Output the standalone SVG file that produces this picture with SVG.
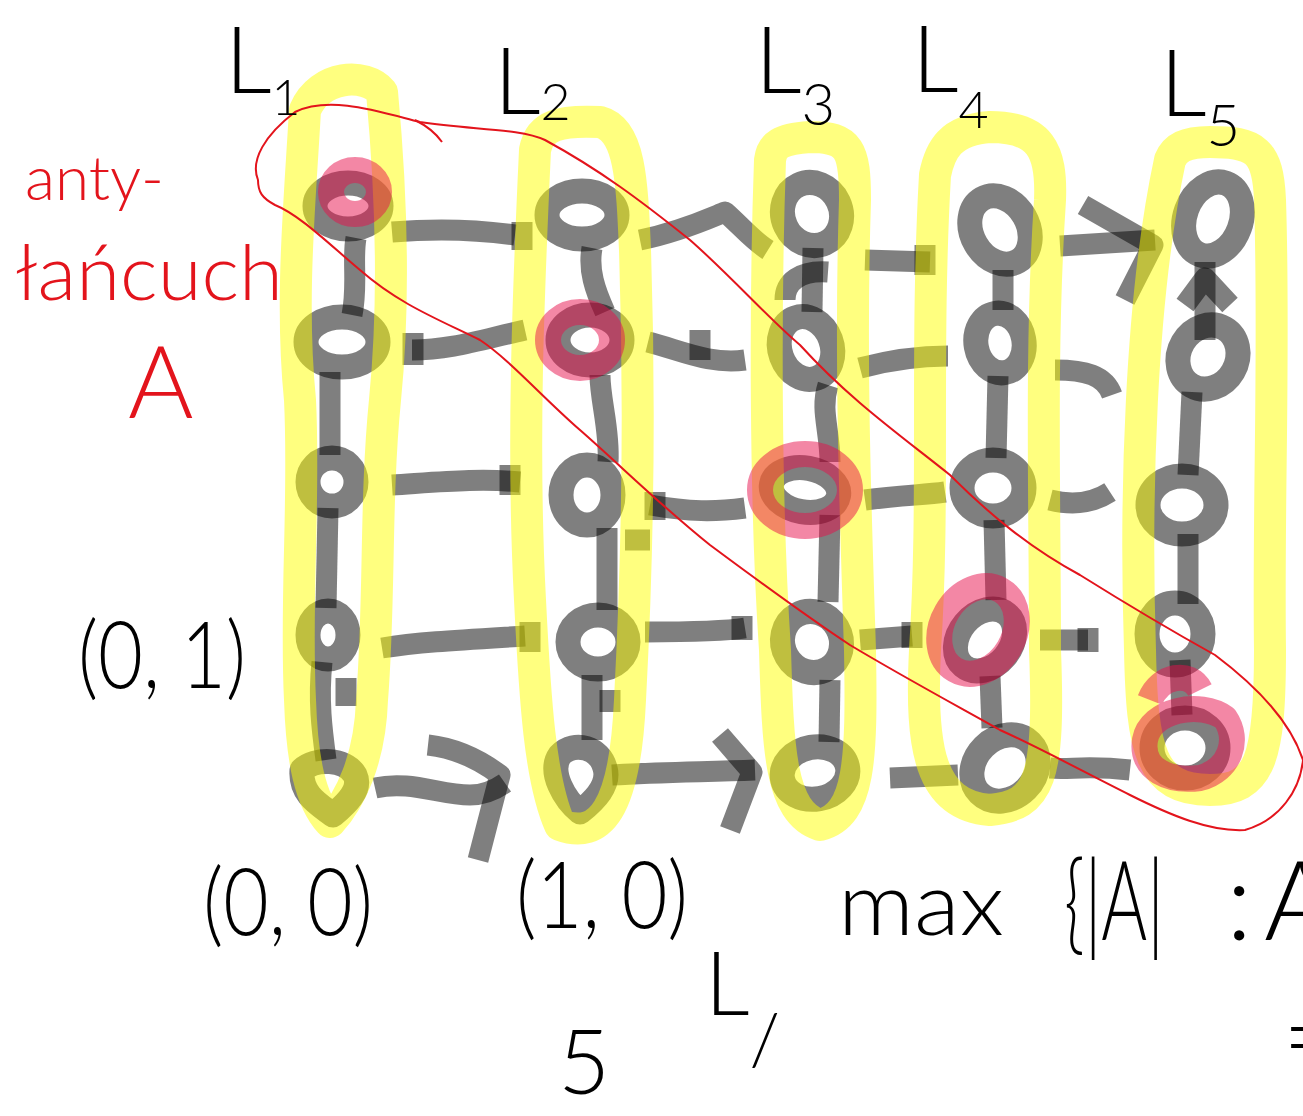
<svg xmlns="http://www.w3.org/2000/svg" width="1303" height="1116" viewBox="0 0 1303 1116">
<style>
.n{fill:none;stroke:#000;stroke-opacity:.5;stroke-width:25;stroke-linejoin:round}
.c{fill:none;stroke:#000;stroke-opacity:.5;stroke-width:21;stroke-linecap:butt;stroke-linejoin:round}
.y{fill:none;stroke:#ffff00;stroke-opacity:.5;stroke-width:32;stroke-linejoin:round}
.p{fill:none;stroke:rgb(232,16,76);stroke-opacity:.5;stroke-width:26;stroke-linejoin:round}
.r{fill:none;stroke:#e3141c;stroke-width:2;stroke-linejoin:round}
.t{font-family:"Lato","Liberation Sans",sans-serif;font-weight:300;fill:#000}
.tr{font-family:"Lato","Liberation Sans",sans-serif;font-weight:300;fill:#e3141c}
</style>
<rect width="1303" height="1116" fill="#fff"/>

<g id="connectors">
  <!-- row 1 -->
  <path class="c" d="M392,232 C440,228 480,230 515,235"/>
  <path class="c" d="M522,222 L522,250"/>
  <path class="c" d="M640,240 C680,232 710,218 725,212 C740,225 752,240 768,250"/>
  <path class="c" d="M865,260 L930,262"/>
  <path class="c" d="M925,245 L925,275"/>
  <path class="c" d="M1060,246 L1155,240"/>
  <path class="c" d="M1083,205 L1153,245 L1125,300"/>
  <!-- row 2 -->
  <path class="c" d="M412,350 C450,350 480,340 525,330"/>
  <path class="c" d="M413,333 L413,365"/>
  <path class="c" d="M648,342 C680,350 710,365 745,360"/>
  <path class="c" d="M700,330 L700,360"/>
  <path class="c" d="M860,368 C890,360 920,356 948,356"/>
  <path class="c" d="M1055,370 C1085,370 1105,375 1112,395"/>
  <!-- row 3 -->
  <path class="c" d="M392,485 C440,482 480,478 520,482"/>
  <path class="c" d="M510,465 L510,495"/>
  <path class="c" d="M650,505 C690,512 715,512 745,508"/>
  <path class="c" d="M655,492 L655,520"/>
  <path class="c" d="M865,500 C900,495 925,495 945,492"/>
  <path class="c" d="M1050,500 C1070,505 1090,505 1110,492"/>
  <!-- row 4 -->
  <path class="c" d="M382,648 C420,642 460,640 525,636"/>
  <path class="c" d="M530,622 L530,652"/>
  <path class="c" d="M645,632 C680,632 720,632 745,628"/>
  <path class="c" d="M742,616 L742,640"/>
  <path class="c" d="M860,640 L912,636"/>
  <path class="c" d="M912,622 L912,648"/>
  <path class="c" d="M1040,640 L1088,640"/>
  <path class="c" d="M1088,628 L1088,652"/>
  <!-- row 5 -->
  <path class="c" d="M375,788 C410,780 440,795 470,795 C485,795 495,790 505,783"/>
  <path class="c" d="M428,745 C455,748 480,760 500,775 L478,860"/>
  <path class="c" d="M612,775 C660,772 700,772 755,770"/>
  <path class="c" d="M720,735 L752,772 L730,830"/>
  <path class="c" d="M890,778 L958,775"/>
  <path class="c" d="M1050,768 C1070,770 1085,765 1130,770"/>
  <!-- column 1 verticals -->
  <path class="c" d="M356,238 C352,260 358,285 352,315"/>
  <path class="c" d="M330,372 L330,455"/>
  <path class="c" d="M328,508 L326,608"/>
  <path class="c" d="M322,662 C318,700 322,730 326,760"/>
  <path class="c" d="M346,678 L346,706"/>
  <!-- column 2 verticals -->
  <path class="c" d="M592,248 C588,270 595,290 605,312"/>
  <path class="c" d="M600,375 C600,400 610,430 608,462"/>
  <path class="c" d="M607,528 L607,610"/>
  <path class="c" d="M625,540 L650,540"/>
  <path class="c" d="M592,675 L592,740"/>
  <path class="c" d="M610,690 L610,712"/>
  <!-- column 3 verticals -->
  <path class="c" d="M813,248 L812,312"/>
  <path class="c" d="M785,300 C785,282 800,270 828,272"/>
  <path class="c" d="M828,385 C820,410 830,430 830,462"/>
  <path class="c" d="M830,515 L828,602"/>
  <path class="c" d="M830,680 L829,742"/>
  <!-- column 4 verticals -->
  <path class="c" d="M1003,270 L1003,310"/>
  <path class="c" d="M998,376 L996,458"/>
  <path class="c" d="M994,520 L996,600"/>
  <path class="c" d="M990,676 L992,728"/>
  <!-- column 5 verticals -->
  <path class="c" d="M1205,262 L1205,340"/>
  <path class="c" d="M1185,305 L1205,278 L1230,305"/>
  <path class="c" d="M1192,392 L1188,475"/>
  <path class="c" d="M1188,534 L1188,604"/>
  <path class="c" d="M1180,660 L1182,715"/>
</g>

<g id="nodes">
  <g id="n11"><ellipse class="n" cx="348" cy="206" rx="33" ry="23"/></g>
  <g id="n12"><ellipse class="n" cx="342" cy="342" rx="36" ry="25"/></g>
  <g id="n13"><ellipse class="n" cx="332" cy="482" rx="24" ry="24"/></g>
  <g id="n14"><ellipse class="n" cx="328" cy="635" rx="20" ry="24"/></g>
  <g id="n15"><path class="n" d="M302,770 C315,758 345,758 355,775 C362,790 345,805 333,815 C320,805 300,795 302,770 Z"/></g>
  <g id="n21"><ellipse class="n" cx="582" cy="215" rx="35" ry="24"/></g>
  <g id="n22"><ellipse class="n" cx="590" cy="340" rx="32" ry="25"/></g>
  <g id="n23"><ellipse class="n" cx="587" cy="495" rx="26" ry="30"/></g>
  <g id="n24"><ellipse class="n" cx="598" cy="642" rx="30" ry="27"/></g>
  <g id="n25"><path class="n" d="M560,755 C575,740 600,748 605,768 C610,785 595,800 580,812 C565,800 548,772 560,755 Z"/></g>
  <g id="n31"><ellipse class="n" cx="812" cy="214" rx="29" ry="32" transform="rotate(-25 812 214)"/></g>
  <g id="n32"><ellipse class="n" cx="806" cy="348" rx="26" ry="32" transform="rotate(-20 806 348)"/></g>
  <g id="n33"><ellipse class="n" cx="805" cy="490" rx="34" ry="22" transform="rotate(10 805 490)"/></g>
  <g id="n34"><ellipse class="n" cx="812" cy="642" rx="29" ry="31" transform="rotate(-30 812 642)"/></g>
  <g id="n35"><ellipse class="n" cx="815" cy="773" rx="33" ry="26" transform="rotate(-10 815 773)"/></g>
  <g id="n41"><ellipse class="n" cx="1000" cy="230" rx="28" ry="36" transform="rotate(-30 1000 230)"/></g>
  <g id="n42"><ellipse class="n" cx="1000" cy="343" rx="24" ry="30" transform="rotate(-10 1000 343)"/></g>
  <g id="n43"><ellipse class="n" cx="993" cy="488" rx="31" ry="28"/></g>
  <g id="n44"><ellipse class="n" cx="985" cy="640" rx="26" ry="34" transform="rotate(40 985 640)"/></g>
  <g id="n45"><ellipse class="n" cx="1005" cy="768" rx="30" ry="36" transform="rotate(45 1005 768)"/></g>
  <g id="n51"><ellipse class="n" cx="1213" cy="219" rx="28" ry="38" transform="rotate(20 1213 219)"/></g>
  <g id="n52"><ellipse class="n" cx="1208" cy="357" rx="29" ry="33" transform="rotate(30 1208 357)"/></g>
  <g id="n53"><ellipse class="n" cx="1182" cy="505" rx="34" ry="29"/></g>
  <g id="n54"><ellipse class="n" cx="1175" cy="634" rx="28" ry="31"/></g>
  <g id="n55"><ellipse class="n" cx="1185" cy="748" rx="33" ry="30"/></g>
</g>

<g id="chains">
  <path class="y" d="M305,110 C300,200 290,300 300,400 C305,500 295,600 300,700 C302,760 310,800 330,822 C350,800 370,760 372,700 C380,600 375,500 385,400 C395,300 392,200 382,92 C365,72 320,75 305,110 Z"/>
  <path class="y" d="M535,150 C528,300 522,450 530,600 C535,700 540,780 560,825 C600,840 625,810 630,700 C638,550 640,400 635,250 C632,180 630,130 600,122 C560,120 540,125 535,150 Z"/>
  <path class="y" d="M770,160 C765,300 765,500 775,650 C778,750 780,812 820,825 C860,815 862,760 860,650 C855,500 850,350 855,200 C855,150 850,137 810,137 C780,139 772,145 770,160 Z"/>
  <path class="y" d="M935,175 C925,350 935,500 925,650 C920,750 930,805 990,810 C1040,805 1050,780 1045,650 C1045,500 1040,350 1050,200 C1052,150 1040,127 990,127 C950,130 940,150 935,175 Z"/>
  <path class="y" d="M1170,160 C1140,300 1135,500 1140,650 C1142,750 1150,790 1210,790 C1260,790 1270,760 1270,650 C1268,500 1275,350 1270,200 C1268,150 1255,142 1210,142 C1185,142 1175,148 1170,160 Z"/>
</g>

<g id="antichain">
  <ellipse class="p" cx="355" cy="192" rx="24" ry="22"/>
  <ellipse class="p" cx="580" cy="340" rx="32" ry="28"/>
  <ellipse class="p" cx="805" cy="490" rx="45" ry="36"/>
  <ellipse class="p" cx="978" cy="630" rx="36" ry="46" transform="rotate(30 978 630)"/>
  <path class="p" d="M1150,700 C1160,675 1190,670 1200,690 M1145,740 C1150,710 1200,700 1225,718 C1240,740 1230,770 1200,778 C1170,782 1140,770 1145,740 Z"/>
  <path class="r" d="M258,180 C250,160 265,135 295,112 C330,95 380,112 420,122 C470,130 520,128 545,140 C600,170 640,200 690,240 C730,275 770,320 800,345 C850,400 900,435 950,475 C990,515 1030,548 1080,575 C1120,600 1170,630 1215,655 C1255,685 1290,720 1303,760 C1300,790 1280,820 1245,830 C1210,832 1170,815 1130,795 C1080,770 1040,748 1000,730 C950,702 900,675 850,645 C800,612 760,582 710,545 C660,505 620,465 580,430 C540,395 510,360 480,340 C440,320 400,305 360,270 C330,245 300,215 275,205 C262,198 258,192 258,180 Z"/>
  <path class="r" d="M415,120 C425,125 435,132 442,142"/>
</g>

<g id="labels">
  <text class="t" x="225" y="93" font-size="92">L<tspan font-size="50" dy="22">1</tspan></text>
  <text class="t" x="494" y="114" font-size="92">L<tspan font-size="52" dy="6">2</tspan></text>
  <text class="t" x="755" y="93" font-size="92">L<tspan font-size="58" dy="32">3</tspan></text>
  <text class="t" x="912" y="92" font-size="92">L<tspan font-size="52" dy="36">4</tspan></text>
  <text class="t" x="1160" y="116" font-size="92">L<tspan font-size="58" dy="30">5</tspan></text>
  <text class="t" x="78" y="688" font-size="92" textLength="168" lengthAdjust="spacingAndGlyphs">(0, 1)</text>
  <text class="t" x="203" y="935" font-size="92" textLength="170" lengthAdjust="spacingAndGlyphs">(0, 0)</text>
  <text class="t" x="516" y="928" font-size="92" textLength="172" lengthAdjust="spacingAndGlyphs">(1, 0)</text>
  <text class="t" x="838" y="935" font-size="88" textLength="166" lengthAdjust="spacingAndGlyphs">max</text>
  <text class="t" x="1064" y="940" font-size="110" textLength="100" lengthAdjust="spacingAndGlyphs">{|A|</text>
  <text class="t" x="1226" y="940" font-size="110">:</text>
  <text class="t" x="1264" y="940" font-size="110">A</text>
  <text class="t" x="705" y="1015" font-size="88">L<tspan font-size="70" dy="50">/</tspan></text>
  <text class="t" x="558" y="1094" font-size="90">5</text>
  <text class="t" x="1282" y="1075" font-size="110">=</text>
  <text class="tr" x="25" y="200" font-size="62">anty-</text>
  <text class="tr" x="15" y="300" font-size="76" textLength="268" lengthAdjust="spacingAndGlyphs">łańcuch</text>
  <text class="tr" x="128" y="418" font-size="100">A</text>
</g>
</svg>
